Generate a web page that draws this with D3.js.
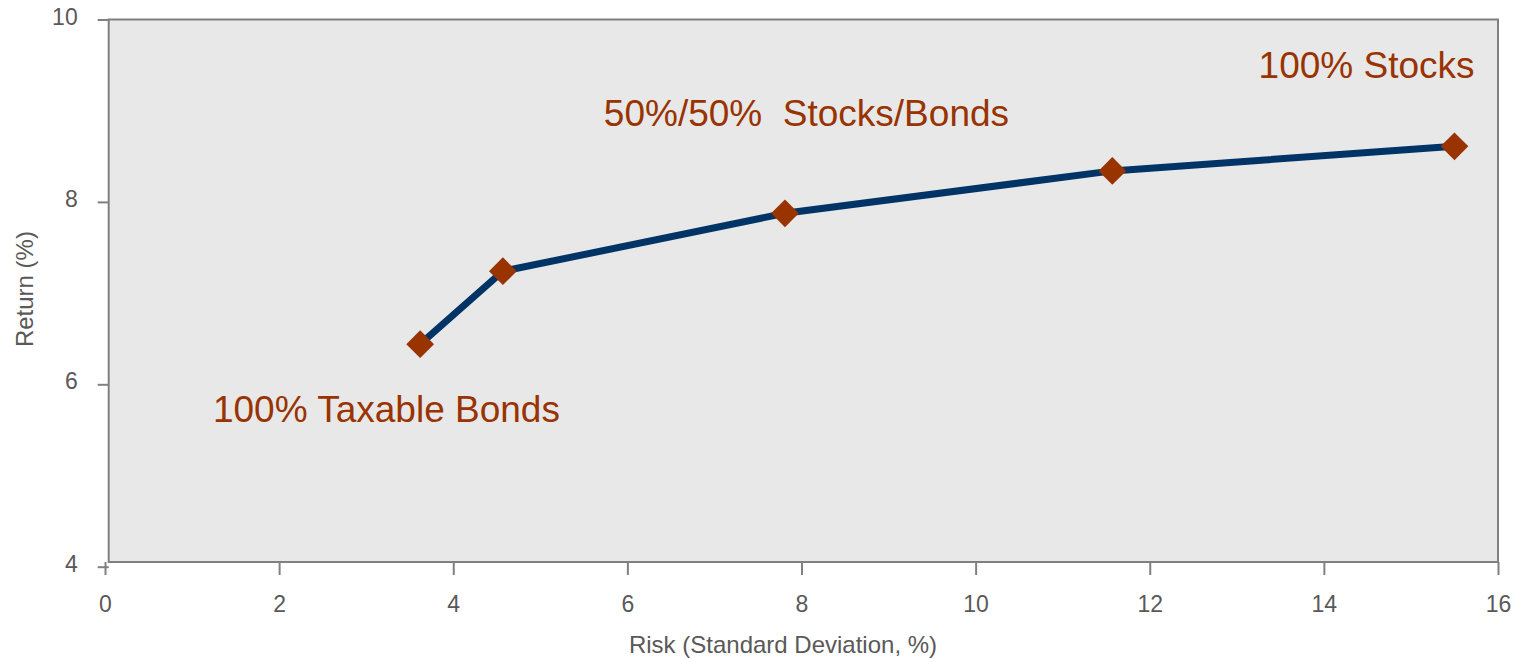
<!DOCTYPE html>
<html>
<head>
<meta charset="utf-8">
<script src="https://cdn.jsdelivr.net/npm/d3@7"></script>
<style>
  body { margin: 0; background: #fff; }
  svg { font-family: "Liberation Sans", Arial, sans-serif; }
  .axis text { fill: #595959; font-size: 23px; }
  .axis line, .axis path { stroke: #808080; stroke-width: 2px; }
</style>
</head>
<body>
<div class="chart"></div>
<script>
// Risk / return points along the frontier
var riskValues = [3.62, 4.57, 7.81, 11.57, 15.50];
var returnValues = [6.44, 7.24, 7.875, 8.34, 8.61];
var xTicks = [0, 2, 4, 6, 8, 10, 12, 14, 16];
var yTicks = [4, 6, 8, 10];
var labelTexts = ["100% Stocks", "50%/50%  Stocks/Bonds", "100% Taxable Bonds"];

var width = 1515, height = 659;

var svg = d3.select(".chart").append("svg")
    .attr("width", width)
    .attr("height", height);

var x = d3.scaleLinear().domain([0, 16]).range([105, 1498]);
var y = d3.scaleLinear().domain([4, 10]).range([566.7, 19.5]);

var plotLeft = 108.7, plotRight = x(16), plotTop = y(10), plotBottom = 562;

// plot background
svg.append("rect")
    .attr("x", plotLeft)
    .attr("y", plotTop)
    .attr("width", plotRight - plotLeft)
    .attr("height", plotBottom - plotTop)
    .style("fill", "#e8e8e8")
    .style("stroke", "#808080")
    .style("stroke-width", "2px");

// axes
var xAxis = svg.append("g")
    .attr("class", "axis")
    .attr("transform", "translate(0," + plotBottom + ")")
    .call(d3.axisBottom(x).tickValues(xTicks).tickFormat(d3.format("d"))
        .tickSize(13).tickSizeOuter(0).tickPadding(21));
xAxis.select(".domain").remove();

var yAxis = svg.append("g")
    .attr("class", "axis")
    .attr("transform", "translate(" + plotLeft + ",0)")
    .call(d3.axisLeft(y).tickValues(yTicks).tickFormat(d3.format("d"))
        .tickSize(11).tickSizeOuter(0).tickPadding(20));
yAxis.select(".domain").remove();
yAxis.selectAll(".tick text").attr("dy", "0.2em");

// axis titles
svg.append("text")
    .attr("x", 783)
    .attr("y", 653)
    .attr("text-anchor", "middle")
    .style("fill", "#595959")
    .style("font-size", "24px")
    .text("Risk (Standard Deviation, %)");

svg.append("text")
    .attr("transform", "translate(33," + (y(7) - 4) + ") rotate(-90)")
    .attr("text-anchor", "middle")
    .style("fill", "#595959")
    .style("font-size", "24px")
    .text("Return (%)");

var points = riskValues.map(function(d, i) { return {risk: d, ret: returnValues[i]}; });

var line = d3.line()
    .x(function(d) { return x(d.risk); })
    .y(function(d) { return y(d.ret); });

svg.append("path")
    .datum(points)
    .attr("d", line)
    .style("fill", "none")
    .style("stroke", "#003366")
    .style("stroke-width", 7);

svg.selectAll(".marker")
    .data(points)
    .enter().append("path")
    .attr("class", "marker")
    .attr("d", d3.symbol().type(d3.symbolDiamond2).size(490))
    .attr("transform", function(d) { return "translate(" + x(d.risk) + "," + y(d.ret) + ")"; })
    .style("fill", "#993300");

// annotations
var labelPos = [[13.25, 9.36], [5.73, 8.835], [1.24, 5.585]];
svg.selectAll(".note")
    .data(labelTexts)
    .enter().append("text")
    .attr("class", "note")
    .attr("x", function(d, i) { return x(labelPos[i][0]); })
    .attr("y", function(d, i) { return y(labelPos[i][1]); })
    .attr("xml:space", "preserve")
    .style("white-space", "pre")
    .style("fill", "#993300")
    .style("font-size", "37px")
    .text(function(d) { return d; });
</script>
</body>
</html>
